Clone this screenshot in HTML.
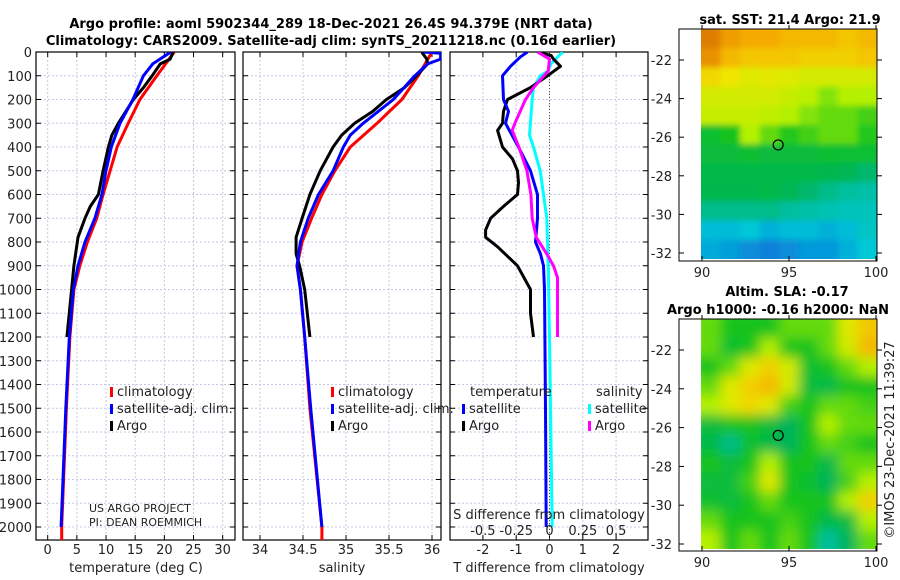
<!DOCTYPE html>
<html><head><meta charset="utf-8"><style>
body{margin:0;background:#fff;}
svg{display:block;font-family:"DejaVu Sans","Liberation Sans",sans-serif;}
</style></head><body>
<svg id="chart" width="900" height="580" viewBox="0 0 900 580" xmlns="http://www.w3.org/2000/svg">
<defs>
<clipPath id="c1"><rect x="36" y="52" width="199" height="488"/></clipPath>
<clipPath id="c2"><rect x="243" y="52" width="198" height="488"/></clipPath>
<clipPath id="c3"><rect x="450" y="52" width="198" height="488"/></clipPath>
<clipPath id="m1"><rect x="701" y="29" width="176" height="230"/></clipPath>
<clipPath id="m2"><rect x="701" y="319" width="176" height="230"/></clipPath>
<filter id="bl" x="-5%" y="-5%" width="110%" height="110%"><feGaussianBlur stdDeviation="3"/></filter>
<filter id="bl2" x="-5%" y="-5%" width="110%" height="110%"><feGaussianBlur stdDeviation="6"/></filter>
</defs>
<g id="root"></g>
</svg>
<script>
// ---------- data ----------
const depthTicks=[0,100,200,300,400,500,600,700,800,900,1000,1100,1200,1300,1400,1500,1600,1700,1800,1900,2000];
const tempTicks=[0,5,10,15,20,25,30];
const salTicks=[34,34.5,35,35.5,36];
const dTTicks=[-2,-1,0,1,2];
const dSTicks=[-0.5,-0.25,0,0.25,0.5];
const dSTickLabels=["-0.5","-0.25","0","0.25","0.5"];
const latTicks=[-22,-24,-26,-28,-30,-32];
const lonTicks=[90,95,100];

const climDepth=[0,100,200,300,400,500,600,700,800,900,1000,1200,1500,2000,2055];
const climTemp=[21.7,18.7,15.8,13.8,11.9,10.7,9.5,8.4,6.8,5.5,4.5,3.8,3.2,2.4,2.4];
const climSal=[36.0,35.84,35.65,35.36,35.05,34.87,34.72,34.6,34.49,34.43,34.47,34.52,34.58,34.72,34.72];

const satDepthT=[0,50,100,200,300,400,500,600,700,800,900,1000,1200,1500,2000];
const satTemp=[21.1,18.0,16.4,14.6,12.4,10.9,10.0,9.3,8.1,6.4,5.2,4.4,3.7,3.1,2.3];
const satDepthS=[0,5,30,50,100,200,300,350,400,500,600,700,800,900,1000,1200,1500,2000];
const satSal=[35.9,36.1,36.1,35.95,35.8,35.55,35.2,35.05,34.97,34.85,34.68,34.56,34.47,34.43,34.47,34.52,34.59,34.72];

const argoDepthT=[0,30,50,100,150,200,300,350,400,500,600,650,700,780,900,1000,1200];
const argoTemp=[21.5,21.0,19.3,17.9,16.4,14.7,12.1,11.0,10.4,9.5,8.7,7.3,6.4,5.2,4.5,4.1,3.3];
const argoDepthS=[0,30,50,100,150,200,250,300,350,400,500,600,700,780,850,900,1000,1200];
const argoSal=[35.88,35.94,35.95,35.82,35.68,35.47,35.31,35.1,34.95,34.85,34.7,34.58,34.49,34.42,34.42,34.46,34.52,34.58];

const dTsatDepth=[0,20,60,100,200,250,300,400,500,600,700,800,850,900,1000,1500,2000];
const dTsat=[-0.66,-0.87,-1.17,-1.41,-1.38,-1.23,-1.32,-0.93,-0.57,-0.36,-0.36,-0.42,-0.27,-0.18,-0.15,-0.12,-0.1];
const dTargoDepth=[0,15,30,60,100,150,200,250,300,330,400,450,500,550,600,650,700,750,780,820,900,1000,1100,1200];
const dTargo=[-0.36,0.05,0.12,0.33,-0.06,-0.57,-1.26,-1.38,-1.41,-1.56,-1.41,-1.11,-0.96,-0.93,-0.96,-1.38,-1.77,-1.92,-1.92,-1.56,-0.96,-0.57,-0.57,-0.48];
const dSsatDepth=[0,10,50,80,100,150,200,350,400,500,600,700,800,900,1200,2000];
const dSsat=[0.1,0.08,0.01,-0.01,-0.07,-0.12,-0.13,-0.15,-0.12,-0.07,-0.045,-0.02,-0.015,-0.01,0.0,0.02];
const dSargoDepth=[0,30,80,150,200,250,300,330,400,500,600,700,780,850,900,950,1000,1200];
const dSargo=[-0.09,0.0,-0.01,-0.12,-0.18,-0.22,-0.26,-0.28,-0.23,-0.17,-0.14,-0.13,-0.1,-0.02,0.03,0.06,0.06,0.06];

const sstGrid=[
[0.85,0.8,0.78,0.78,0.75,0.75,0.75,0.72,0.75],
[0.82,0.75,0.72,0.72,0.72,0.7,0.7,0.7,0.72],
[0.68,0.65,0.62,0.63,0.62,0.6,0.6,0.6,0.6],
[0.6,0.6,0.6,0.6,0.58,0.56,0.52,0.55,0.55],
[0.58,0.58,0.58,0.57,0.55,0.52,0.5,0.5,0.48],
[0.42,0.45,0.55,0.5,0.46,0.48,0.5,0.5,0.46],
[0.4,0.4,0.42,0.4,0.4,0.4,0.42,0.42,0.42],
[0.38,0.38,0.38,0.38,0.38,0.38,0.37,0.36,0.33],
[0.37,0.37,0.37,0.38,0.36,0.33,0.3,0.28,0.27],
[0.3,0.3,0.3,0.3,0.28,0.27,0.26,0.25,0.25],
[0.2,0.2,0.22,0.18,0.2,0.2,0.18,0.2,0.24],
[0.17,0.15,0.12,0.1,0.12,0.14,0.14,0.18,0.22]];
const slaGrid=[
[0.5,0.45,0.45,0.45,0.5,0.5,0.5,0.62,0.72],
[0.5,0.42,0.45,0.55,0.45,0.45,0.5,0.6,0.75],
[0.45,0.5,0.62,0.7,0.6,0.42,0.45,0.5,0.55],
[0.5,0.62,0.7,0.75,0.6,0.4,0.38,0.45,0.45],
[0.55,0.62,0.68,0.62,0.48,0.45,0.5,0.5,0.48],
[0.4,0.45,0.45,0.4,0.35,0.45,0.55,0.5,0.5],
[0.38,0.3,0.42,0.38,0.35,0.45,0.5,0.48,0.45],
[0.45,0.4,0.45,0.55,0.45,0.45,0.38,0.5,0.5],
[0.4,0.4,0.48,0.62,0.45,0.42,0.35,0.48,0.55],
[0.42,0.4,0.45,0.5,0.45,0.45,0.45,0.55,0.7],
[0.5,0.45,0.45,0.45,0.48,0.45,0.38,0.4,0.55],
[0.55,0.45,0.5,0.45,0.5,0.45,0.28,0.35,0.5]];
const argoLon=94.379, argoLat=-26.4;

// ---------- helpers ----------
const NS="http://www.w3.org/2000/svg";
const root=document.getElementById('root');
function el(tag,attrs,parent,txt){const e=document.createElementNS(NS,tag);for(const k in attrs)e.setAttribute(k,attrs[k]);if(txt!==undefined)e.textContent=txt;(parent||root).appendChild(e);return e;}
const Y=d=>52+d*0.2375;
const XT=t=>47.7+t*5.833;
const XS=s=>260+(s-34)*86;
const XdT=t=>549.5+t*33.3;
const XdS=s=>549.5+s*133.2;
const lonX=l=>702+(l-90)*17.4;
const latY1=l=>60+(-22-l)*19.3;
const latY2=l=>350+(-22-l)*19.4;

const panels=[[36,235,'temperature-panel'],[243,441,'salinity-panel'],[450,648,'difference-panel']];
const gridX=[tempTicks.map(XT),salTicks.map(XS),dTTicks.map(XdT)];
panels.forEach((p,i)=>{
  const g=el('g',{});
  
  
  gridX[i].forEach(x=>{const l=el('line',{x1:x,x2:x,y1:52,y2:540,stroke:'#c4c8e4','stroke-width':1,'stroke-dasharray':'2,2'},g);
    });
  depthTicks.forEach(d=>{const l=el('line',{x1:p[0],x2:p[1],y1:Y(d),y2:Y(d),stroke:'#c4c8e4','stroke-width':1,'stroke-dasharray':'2,2'},g);
    
    el('line',{x1:p[0],x2:p[0]+5,y1:Y(d),y2:Y(d),stroke:'#000'},g);el('line',{x1:p[1]-5,x2:p[1],y1:Y(d),y2:Y(d),stroke:'#000'},g);});
  gridX[i].forEach(x=>{el('line',{x1:x,x2:x,y1:535,y2:540,stroke:'#000'},g);el('line',{x1:x,x2:x,y1:52,y2:57,stroke:'#000'},g);});
  const r=el('rect',{x:p[0],y:52,width:p[1]-p[0],height:488,fill:'none',stroke:'#000','stroke-width':1.2},g);
  
});
el('line',{x1:XdT(0),x2:XdT(0),y1:52,y2:540,stroke:'#555','stroke-dasharray':'1,2'});

function line(xs,ds,fx,color,clip,name){
  const pts=xs.map((v,i)=>fx(v).toFixed(1)+','+Y(ds[i]).toFixed(1)).join(' ');
  const p=el('polyline',{points:pts,fill:'none',stroke:color,'stroke-width':3,'stroke-linejoin':'round','clip-path':'url(#'+clip+')'});
  
  
}
line(climTemp,climDepth,XT,'#ff0000','c1','climatology-temperature-line');
line(argoTemp,argoDepthT,XT,'#000','c1','argo-temperature-line');
line(satTemp,satDepthT,XT,'#0000ff','c1','satellite-temperature-line');
line(climSal,climDepth,XS,'#ff0000','c2','climatology-salinity-line');
line(argoSal,argoDepthS,XS,'#000','c2','argo-salinity-line');
line(satSal,satDepthS,XS,'#0000ff','c2','satellite-salinity-line');
line(dSsat,dSsatDepth,XdS,'#00ffff','c3','satellite-salinity-difference-line');
line(dTargo,dTargoDepth,XdT,'#000','c3','argo-temperature-difference-line');
line(dTsat,dTsatDepth,XdT,'#0000ff','c3','satellite-temperature-difference-line');
line(dSargo,dSargoDepth,XdS,'#ff00ff','c3','argo-salinity-difference-line');

function txt(x,y,s,attrs,name){const t=el('text',Object.assign({x:x,y:y,'font-size':13,fill:'#222'},attrs||{}),root,s);
  return t;}
depthTicks.forEach(d=>txt(32,Y(d)+5,String(d),{'text-anchor':'end'},'depth-tick-label'));
tempTicks.forEach(t=>txt(XT(t),554,String(t),{'text-anchor':'middle'},'temperature-tick-label'));
salTicks.forEach(s=>txt(XS(s),554,String(s),{'text-anchor':'middle'},'salinity-tick-label'));
dTTicks.forEach(t=>txt(XdT(t),554,String(t),{'text-anchor':'middle'},'t-difference-tick-label'));
dSTicks.forEach((s,i)=>txt(XdS(s),535,dSTickLabels[i],{'text-anchor':'middle'},'s-difference-tick-label'));
txt(136,572,'temperature (deg C)',{'text-anchor':'middle'},'x-axis-title-temperature');
txt(342,572,'salinity',{'text-anchor':'middle'},'x-axis-title-salinity');
txt(549,572,'T difference from climatology',{'text-anchor':'middle'},'x-axis-title-t-difference');
txt(549,519,'S difference from climatology',{'text-anchor':'middle'},'s-difference-axis-title');
txt(331,28,'Argo profile: aoml 5902344_289 18-Dec-2021 26.4S 94.379E (NRT data)',{'text-anchor':'middle','font-weight':'bold','fill':'#000'},'chart-title-line-1');
txt(331,45,'Climatology: CARS2009. Satellite-adj clim: synTS_20211218.nc (0.16d earlier)',{'text-anchor':'middle','font-weight':'bold','fill':'#000'},'chart-title-line-2');
txt(89,512,'US ARGO PROJECT',{'font-size':11},'credit-project');
txt(89,526,'PI: DEAN ROEMMICH',{'font-size':11},'credit-pi');

function legend(x,y,color,label,name){
  const m=el('rect',{x:x,y:y-9,width:3,height:10,fill:color});
  
  txt(x+7,y,label,{},name);
}
[[110,'#ff0000','climatology'],[110,'#0000ff','satellite-adj. clim.'],[110,'#000','Argo']].forEach((l,i)=>legend(l[0],396+i*17,l[1],l[2],'legend-entry'));
[[331,'#ff0000','climatology'],[331,'#0000ff','satellite-adj. clim.'],[331,'#000','Argo']].forEach((l,i)=>legend(l[0],396+i*17,l[1],l[2],'legend-entry'));
txt(470,396,'temperature',{},'legend-heading-temperature');
txt(596,396,'salinity',{},'legend-heading-salinity');
legend(462,413,'#0000ff','satellite','legend-entry');
legend(462,430,'#000','Argo','legend-entry');
legend(588,413,'#00ffff','satellite','legend-entry');
legend(588,430,'#ff00ff','Argo','legend-entry');

// ---------- maps ----------
const stops=[[0,[16,70,220]],[0.22,[0,200,215]],[0.35,[0,180,90]],[0.45,[20,195,30]],[0.55,[180,240,0]],[0.65,[240,230,0]],[0.78,[245,170,0]],[0.9,[205,95,0]]];
function cmap(v){for(let i=1;i<stops.length;i++){if(v<=stops[i][0]){const a=stops[i-1],b=stops[i],f=(v-a[0])/(b[0]-a[0]);
  return 'rgb('+a[1].map((c,k)=>Math.round(c+(b[1][k]-c)*f)).join(',')+')';}}return 'rgb('+stops[stops.length-1][1].join(',')+')';}
function map(grid,top,clip,filt,latY,name,title1,title2){
  const g=el('g',{'clip-path':'url(#'+clip+')'});
  
  const inner=el('g',{filter:'url(#'+filt+')'},g);
  const cw=176/grid[0].length,ch=230/grid.length;
  grid.forEach((row,r)=>row.forEach((v,c)=>{
    const cell=el('rect',{x:701+c*cw-(c==0?10:0),y:top+r*ch-(r==0?10:0),width:cw+1+(c==0||c==row.length-1?10:0),height:ch+1+(r==0||r==grid.length-1?10:0),fill:cmap(v)},inner);
    }));
  const b=el('rect',{x:679,y:top,width:198,height:232,fill:'none',stroke:'#000'});
  
  latTicks.forEach(l=>{const y=latY(l);el('line',{x1:679,x2:684,y1:y,y2:y,stroke:'#000'});el('line',{x1:877,x2:882,y1:y,y2:y,stroke:'#000'});
    txt(672,y+5,String(l),{'text-anchor':'end'},'latitude-tick-label');});
  lonTicks.forEach(l=>{const x=lonX(l);el('line',{x1:x,x2:x,y1:top+227,y2:top+232,stroke:'#000'});el('line',{x1:x,x2:x,y1:top,y2:top-4,stroke:'#000'});
    txt(x,top+248,String(l),{'text-anchor':'middle'},'longitude-tick-label');});
  const c=el('circle',{cx:lonX(argoLon),cy:latY(argoLat),r:5,fill:'none',stroke:'#000','stroke-width':1.2});
  
}
map(sstGrid,29,'m1','bl','sst-map'.length?latY1:latY1,'sst-map');
map(slaGrid,319,'m2','bl2',latY2,'sla-map');
txt(790,24,'sat. SST: 21.4 Argo: 21.9',{'text-anchor':'middle','font-weight':'bold','fill':'#000'},'sst-map-title');
txt(787,296,'Altim. SLA: -0.17',{'text-anchor':'middle','font-weight':'bold','fill':'#000'},'sla-map-title-line-1');
txt(778,314,'Argo h1000: -0.16 h2000: NaN',{'text-anchor':'middle','font-weight':'bold','fill':'#000'},'sla-map-title-line-2');
txt(0,0,'©IMOS 23-Dec-2021 11:39:27',{'text-anchor':'middle',transform:'translate(894,440) rotate(-90)'},'imos-timestamp');
</script>
</body></html>
